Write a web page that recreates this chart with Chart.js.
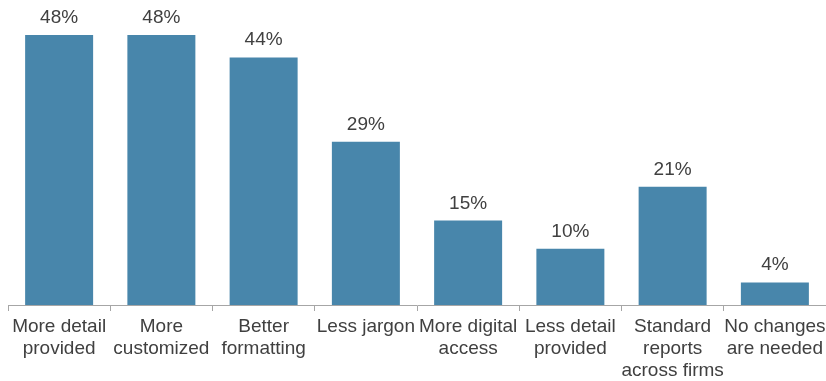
<!DOCTYPE html>
<html>
<head>
<meta charset="utf-8">
<script src="https://cdn.jsdelivr.net/npm/chart.js@4.4.1/dist/chart.umd.min.js"></script>
<style>
  html, body { margin: 0; padding: 0; background: #fff; }
  #wrap { width: 826px; height: 381px; position: relative; }
</style>
</head>
<body>
<div id="wrap"><canvas id="mycanvas"></canvas></div>
<script>
var categories = [
	['More detail', 'provided'],
	['More', 'customized'],
	['Better', 'formatting'],
	['Less jargon'],
	['More digital', 'access'],
	['Less detail', 'provided'],
	['Standard', 'reports', 'across firms'],
	['No changes', 'are needed']
];
var percents = [48, 48, 44, 29, 15, 10, 21, 4];

var textColor = '#404040';
var fontFamily = '"Liberation Sans", Arial, sans-serif';

// writes the percentage above each bar
var valueLabels = {
	id: 'valueLabels',
	afterDatasetsDraw: function(chart) {
		var ctx = chart.ctx;
		var meta = chart.getDatasetMeta(0);
		ctx.save();
		ctx.font = '19px ' + fontFamily;
		ctx.fillStyle = textColor;
		ctx.textAlign = 'center';
		ctx.textBaseline = 'alphabetic';
		meta.data.forEach(function(bar, i) {
			ctx.fillText(percents[i] + '%', bar.x, bar.y - 12);
		});
		ctx.restore();
	}
};

var chartdata = {
	labels: categories,
	datasets: [
		{
			data: percents,
			backgroundColor: '#4886ab',
			borderWidth: 0,
			barPercentage: 0.665,
			categoryPercentage: 1
		}
	]
};

var ctx = document.getElementById('mycanvas');

var barGraph = new Chart(ctx, {
	type: 'bar',
	data: chartdata,
	options: {
		responsive: true,
		maintainAspectRatio: false,
		animation: false,
		layout: { padding: { left: 8, right: 0, top: 0, bottom: -6 } },
		plugins: {
			legend: { display: false },
			tooltip: { enabled: false }
		},
		scales: {
			y: {
				display: false,
				min: 0,
				max: 54.2
			},
			x: {
				border: { display: true, color: '#a6a6a6', width: 1 },
				grid: {
					display: true,
					drawOnChartArea: false,
					drawTicks: true,
					tickLength: 6,
					color: '#a6a6a6',
					offset: true
				},
				ticks: {
					color: textColor,
					font: { family: fontFamily, size: 19, lineHeight: '22px' },
					padding: 5,
					maxRotation: 0,
					minRotation: 0,
					autoSkip: false
				},
				// keep the axis running to the right edge
				afterFit: function(scale) {
					scale.paddingLeft = 0;
					scale.paddingRight = 0;
				}
			}
		}
	},
	plugins: [valueLabels]
});
</script>
</body>
</html>
